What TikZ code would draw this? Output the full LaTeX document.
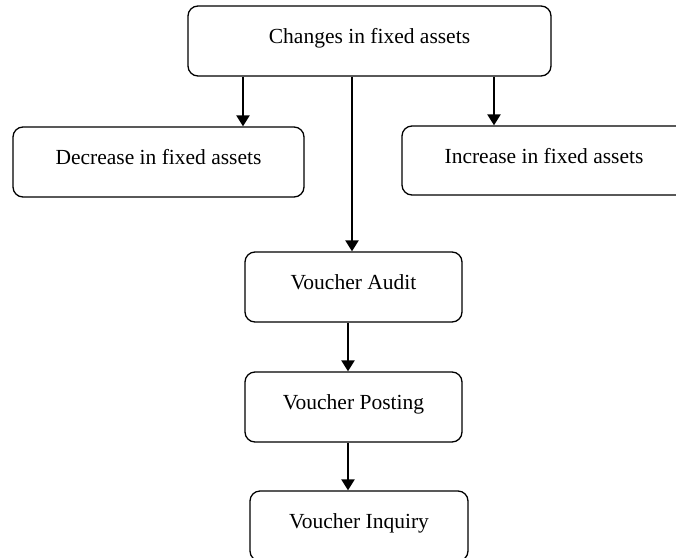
\documentclass[tikz,border=0pt]{standalone}
\usepackage{fontspec}
\setmainfont{Liberation Serif}
\usetikzlibrary{arrows.meta}
\tikzset{
  box/.style={draw=black, line width=1.3pt, rounded corners=10pt, fill=white,
    font=\fontsize{21.5pt}{24pt}\selectfont, text height=15pt, text depth=10pt,
    inner sep=0pt},
  arr/.style={line width=2.3pt, -{Triangle[width=13pt,length=11pt]}}
}
\begin{document}
\begin{tikzpicture}[x=1pt,y=-1pt]
  \useasboundingbox (0,0) rectangle (676,557);
  \clip (0,0) rectangle (676,557);

  % boxes
  \node[box, minimum width=363pt, minimum height=70pt] (changes) at (369.5,41) {Changes in fixed assets};
  \node[box, minimum width=291pt, minimum height=70pt] (dec) at (158.5,162) {Decrease in fixed assets};
  \node[box, minimum width=284pt, minimum height=69pt] (inc) at (544,160.5) {Increase in fixed assets};
  \node[box, minimum width=217pt, minimum height=70pt] (audit) at (353.5,287) {Voucher Audit};
  \node[box, minimum width=217pt, minimum height=70pt] (post) at (353.5,407) {Voucher Posting};
  \node[box, minimum width=218pt, minimum height=70pt] (inq) at (359,526) {Voucher Inquiry};

  % x positions of the connectors
  \coordinate (xl) at (243,0);
  \coordinate (xc) at (352,0);
  \coordinate (xr) at (494,0);
  \coordinate (xv) at (348,0);

  % connectors
  \draw[arr] (changes.south -| xl) -- (dec.north -| xl);
  \draw[arr] (changes.south -| xc) -- (audit.north -| xc);
  \draw[arr] (changes.south -| xr) -- (inc.north -| xr);
  \draw[arr] (audit.south -| xv) -- (post.north -| xv);
  \draw[arr] (post.south -| xv) -- (inq.north -| xv);
\end{tikzpicture}
\end{document}
